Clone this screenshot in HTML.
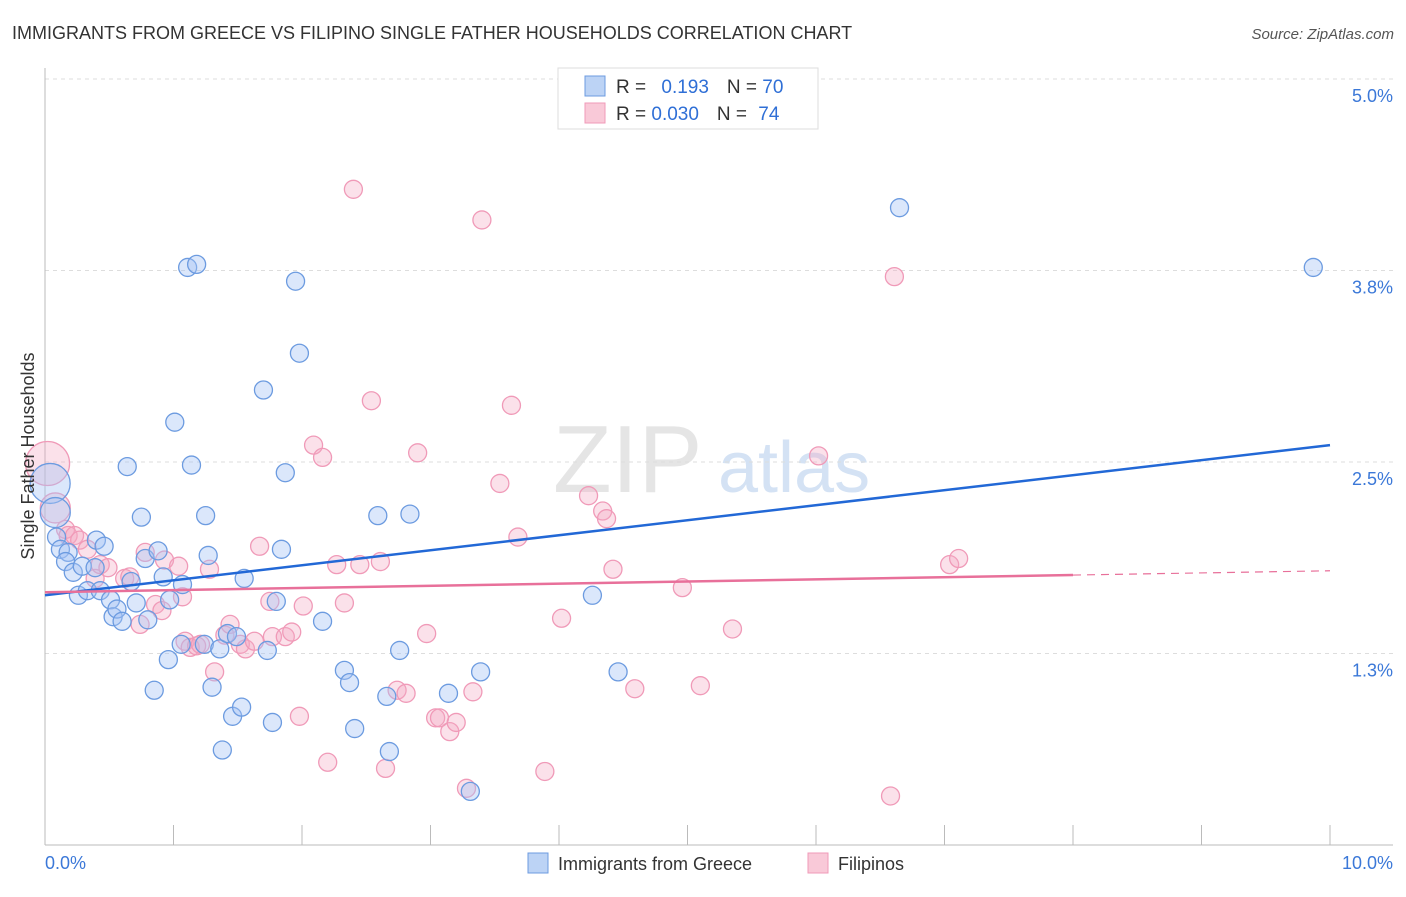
<!DOCTYPE html>
<html><head><meta charset="utf-8"><style>
body{margin:0;background:#fff;font-family:"Liberation Sans",sans-serif;}
svg text{font-family:"Liberation Sans",sans-serif;}
</style></head><body>
<svg id="chart" width="1406" height="892" xmlns="http://www.w3.org/2000/svg">
<text x="12" y="39" font-size="18" fill="#333">IMMIGRANTS FROM GREECE VS FILIPINO SINGLE FATHER HOUSEHOLDS CORRELATION CHART</text>
<text x="1394" y="39" font-size="15" fill="#555" text-anchor="end" font-style="italic">Source: ZipAtlas.com</text>
<g opacity="0.5">
<text x="553" y="492" font-size="96" font-family="Liberation Serif" fill="#ccc">ZIP</text>
<text x="718" y="492" font-size="72" fill="#aac6ea">atlas</text>
</g>
<g id="grid"></g><g id="axes"></g><g id="pts"></g><g id="trends"></g>
<text transform="translate(34,456) rotate(-90)" text-anchor="middle" font-size="18" fill="#333">Single Father Households</text>
<g>
<rect x="558" y="68" width="260" height="61" fill="#fff" stroke="#ddd"/>
<rect x="585" y="76" width="20" height="20" fill="#bcd3f5" stroke="#6c9be0"/>
<rect x="585" y="103" width="20" height="20" fill="#f9c9d8" stroke="#f09ab8"/>
<text x="616" y="93" font-size="19" fill="#333">R = <tspan fill="#2f6fd6" dx="10">0.193</tspan><tspan dx="18">N = </tspan><tspan fill="#2f6fd6">70</tspan></text>
<text x="616" y="120" font-size="19" fill="#333">R = <tspan fill="#2f6fd6">0.030</tspan><tspan dx="18">N = </tspan><tspan fill="#2f6fd6" dx="6">74</tspan></text>
</g>
<g>
<rect x="528" y="853" width="20" height="20" fill="#bcd3f5" stroke="#6c9be0"/>
<text x="558" y="870" font-size="18" fill="#333">Immigrants from Greece</text>
<rect x="808" y="853" width="20" height="20" fill="#f9c9d8" stroke="#f09ab8"/>
<text x="838" y="870" font-size="18" fill="#333">Filipinos</text>
</g>
</svg>
<script>
const yTicks=[1.25,2.5,3.75,5.0];
const yTickLabels=["1.3%","2.5%","3.8%","5.0%"];
const xTicks=[1,2,3,4,5,6,7,8,9,10];
const blueX=[0.04,0.08,0.09,0.12,0.18,0.16,0.22,0.29,0.26,0.33,0.39,0.40,0.46,0.43,0.51,0.53,0.56,0.60,0.64,0.67,0.71,0.75,0.78,0.80,0.88,0.92,0.85,0.96,0.97,1.01,1.07,1.06,1.11,1.18,1.14,1.25,1.27,1.24,1.30,1.36,1.38,1.42,1.46,1.49,1.53,1.55,1.70,1.73,1.77,1.80,1.84,1.87,1.95,1.98,2.16,2.33,2.37,2.41,2.59,2.66,2.68,2.76,2.84,3.14,3.31,3.39,4.26,4.46,6.65,9.87];
const blueY=[2.36,2.17,2.01,1.93,1.91,1.85,1.78,1.82,1.63,1.66,1.81,1.99,1.95,1.66,1.60,1.49,1.54,1.46,2.47,1.72,1.58,2.14,1.87,1.47,1.92,1.75,1.01,1.21,1.60,2.76,1.70,1.31,3.77,3.79,2.48,2.15,1.89,1.31,1.03,1.28,0.62,1.38,0.84,1.36,0.90,1.74,2.97,1.27,0.80,1.59,1.93,2.43,3.68,3.21,1.46,1.14,1.06,0.76,2.15,0.97,0.61,1.27,2.16,0.99,0.35,1.13,1.63,1.13,4.16,3.77];
const blueSize=[20,15];
const pinkX=[0.02,0.08,0.16,0.18,0.23,0.27,0.33,0.39,0.43,0.49,0.62,0.66,0.74,0.78,0.86,0.91,0.93,1.04,1.07,1.09,1.13,1.18,1.21,1.28,1.32,1.40,1.44,1.52,1.56,1.63,1.67,1.75,1.77,1.87,1.92,1.98,2.01,2.09,2.16,2.20,2.27,2.33,2.40,2.45,2.54,2.61,2.65,2.74,2.81,2.90,2.97,3.04,3.07,3.15,3.20,3.28,3.33,3.40,3.54,3.63,3.68,3.89,4.02,4.23,4.34,4.37,4.42,4.59,4.96,5.10,5.35,6.02,6.58,6.61,7.04,7.11];
const pinkY=[2.49,2.20,2.06,2.02,2.02,1.99,1.93,1.74,1.83,1.81,1.74,1.75,1.44,1.91,1.57,1.53,1.86,1.82,1.62,1.33,1.29,1.30,1.31,1.80,1.13,1.37,1.44,1.31,1.28,1.33,1.95,1.59,1.36,1.36,1.39,0.84,1.56,2.61,2.53,0.54,1.83,1.58,4.28,1.83,2.90,1.85,0.50,1.01,0.99,2.56,1.38,0.83,0.83,0.74,0.80,0.37,1.00,4.08,2.36,2.87,2.01,0.48,1.48,2.28,2.18,2.13,1.80,1.02,1.68,1.04,1.41,2.54,0.32,3.71,1.83,1.87];
const pinkSize=[22,15];
const blueTrend=[1.63,2.61];
const pinkTrend=[1.65,1.79];
const pinkSolidEnd=8;

const NS="http://www.w3.org/2000/svg";
const X=v=>45+v*128.5;
const Y=v=>845-v*153.2;
function mk(tag,attrs,parent){const e=document.createElementNS(NS,tag);for(const k in attrs)e.setAttribute(k,attrs[k]);parent.appendChild(e);return e;}
const grid=document.getElementById('grid'),axes=document.getElementById('axes'),pts=document.getElementById('pts'),tr=document.getElementById('trends');
yTicks.forEach((t,i)=>{
 const l=mk('line',{x1:45,x2:1393,y1:Y(t),y2:Y(t),stroke:'#ddd','stroke-dasharray':'4,4'},grid);
 
 
 const tx=mk('text',{x:1393,y:Y(t)+23,'text-anchor':'end','font-size':18,fill:'#3b78d8'},grid);
 tx.textContent=yTickLabels[i];
 
 
});
let ax=mk('line',{x1:45,x2:45,y1:68,y2:845,stroke:'#bbb'},axes);


ax=mk('line',{x1:45,x2:1393,y1:845,y2:845,stroke:'#bbb'},axes);


xTicks.forEach(t=>{
 const l=mk('line',{x1:X(t),x2:X(t),y1:825,y2:845,stroke:'#bbb'},axes);
 
 
});
let xl=mk('text',{x:45,y:869,'font-size':18,fill:'#3b78d8'},axes);xl.textContent='0.0%';


xl=mk('text',{x:1393,y:869,'font-size':18,fill:'#3b78d8','text-anchor':'end'},axes);xl.textContent='10.0%';


function series(xs,ys,sizes,fill,stroke,name){
 xs.forEach((x,i)=>{
  const c=mk('circle',{cx:X(x),cy:Y(ys[i]),r:sizes[i]||9,fill:fill,stroke:stroke,'stroke-width':1.3},pts);
  
  
 });
}
series(pinkX,pinkY,pinkSize,'rgba(244,170,195,0.35)','#f09ab8','filipinos-point');
series(blueX,blueY,blueSize,'rgba(164,194,244,0.4)','#6c9be0','greece-point');
let t=mk('line',{x1:X(0),y1:Y(blueTrend[0]),x2:X(10),y2:Y(blueTrend[1]),stroke:'#2268d6','stroke-width':2.5},tr);


const pAt=v=>pinkTrend[0]+(pinkTrend[1]-pinkTrend[0])*v/10;
t=mk('line',{x1:X(0),y1:Y(pAt(0)),x2:X(pinkSolidEnd),y2:Y(pAt(pinkSolidEnd)),stroke:'#e8709a','stroke-width':2.5},tr);


t=mk('line',{x1:X(pinkSolidEnd),y1:Y(pAt(pinkSolidEnd)),x2:X(10),y2:Y(pAt(10)),stroke:'#e8709a','stroke-width':1.2,'stroke-dasharray':'8,6'},tr);


</script>
</body></html>
